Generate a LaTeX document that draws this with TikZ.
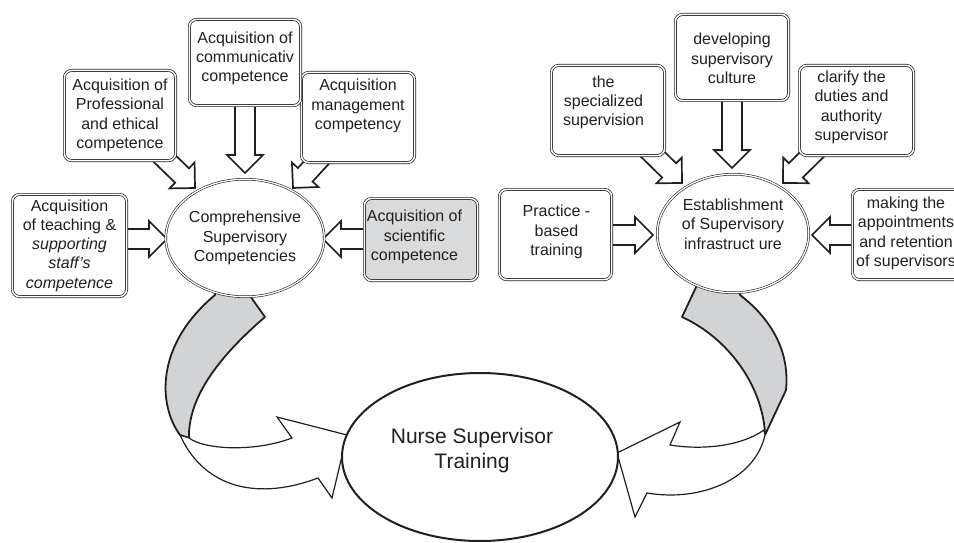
\documentclass[tikz,border=0pt]{standalone}
\usepackage{fontspec}
\setmainfont{Liberation Sans}
\usetikzlibrary{calc,shapes.geometric}
\pgfdeclarelayer{back}
\pgfsetlayers{back,main}
\definecolor{ink}{RGB}{35,31,32}
\definecolor{ribbon}{RGB}{209,211,212}
\definecolor{boxgray}{RGB}{217,218,219}
\newcommand\boxfont{\fontsize{16}{19.3}\selectfont}
\newcommand\bigfont{\fontsize{21}{25}\selectfont}
\tikzset{
  box/.style={draw=ink, double=white, double distance=1.5pt, line width=0.7pt,
    rounded corners=7pt, fill=white, inner sep=0pt},
  btxt/.style={align=center, font=\boxfont, text=ink, inner sep=0pt},
  oval/.style={ellipse, draw=ink, double=white, double distance=1.3pt, line width=0.6pt,
    fill=white, inner sep=0pt, align=center, font=\boxfont, text=ink},
  nurse/.style={ellipse, draw=ink, line width=2pt, fill=white, inner sep=0pt},
  barrow/.style={draw=ink, line width=1.7pt, fill=white, line join=miter,
    to path={let \p1=($(\tikztotarget)-(\tikztostart)$), \n1={atan2(\y1,\x1)} in
      (\tikztotarget) -- ($(\tikztotarget)+({\n1+135}:25.46pt)$)
      -- ($(\tikztotarget)+({\n1+150.95}:20.59pt)$)
      -- ($(\tikztostart)+({\n1+90}:10pt)$)
      -- ($(\tikztostart)+({\n1-90}:10pt)$)
      -- ($(\tikztotarget)+({\n1-150.95}:20.59pt)$)
      -- ($(\tikztotarget)+({\n1-135}:25.46pt)$) -- cycle}},
  rib/.style={draw=ink, line width=1.8pt, fill=ribbon, line join=round},
  ribw/.style={draw=ink, line width=1.2pt, fill=white, line join=miter},
}
\begin{document}
\begin{tikzpicture}[x=1pt,y=-1pt]
\useasboundingbox (0,0) rectangle (954,543);
\clip (0,0) rectangle (954,543);

% central ellipses
\node[oval, minimum width=148.5pt, minimum height=117.5pt] (comp) at (245,238)
  {Comprehensive\\Supervisory\\Competencies};
\node[oval, minimum width=151.5pt, minimum height=118.5pt,
  label={[btxt,yshift=9.5pt]center:Establishment\\of Supervisory\\infrastruct ure}] (est) at (733,233.5) {};
\node[nurse, minimum width=276pt, minimum height=168pt,
  label={[btxt,font=\bigfont,xshift=-8pt,yshift=6.5pt]center:Nurse Supervisor\\Training}] (nurse) at (480,457) {};

% boxes, left group
\node[box, minimum width=114.1pt, minimum height=102.1pt,
  label={[btxt]center:Acquisition\\of teaching \&\\\textit{supporting}\\\textit{staff's}\\\textit{competence}}] (teach) at (69.5,245.5) {};
\node[box, minimum width=111.1pt, minimum height=90.1pt,
  label={[btxt]center:Acquisition of\\Professional\\and ethical\\competence}] (prof) at (120,115.5) {};
\node[box, minimum width=113.1pt, minimum height=90.1pt,
  label={[btxt,yshift=11.5pt]center:Acquisition\\management\\competency}] (mgmt) at (358,117.5) {};
\node[box, minimum width=111.1pt, minimum height=86.1pt,
  label={[btxt,yshift=4pt]center:Acquisition of\\communicativ\\competence}] (comm) at (245,62.5) {};
\node[box, fill=boxgray, minimum width=113.1pt, minimum height=82.1pt,
  label={[btxt,xshift=-6.5pt,yshift=2.5pt]center:Acquisition of\\scientific\\competence}] (sci) at (421,239.5) {};

% boxes, right group
\node[box, minimum width=113.1pt, minimum height=90.1pt,
  label={[btxt,xshift=-4.5pt,yshift=8pt]center:the\\specialized\\supervision}] (spec) at (608,110.5) {};
\node[box, minimum width=113.1pt, minimum height=86.1pt,
  label={[btxt,yshift=-1pt]center:developing\\supervisory\\culture}] (dev) at (732,57.5) {};
\node[box, minimum width=114.1pt, minimum height=90.1pt,
  label={[btxt,xshift=-5pt,yshift=3pt]center:clarify the\\duties and\\authority\\supervisor}] (clar) at (856.5,110.5) {};
\node[box, minimum width=112.1pt, minimum height=90.1pt,
  label={[btxt,xshift=1pt,yshift=2.5pt]center:Practice -\\based\\training}] (prac) at (555.5,234.5) {};
\node[box, minimum width=113.1pt, minimum height=90.1pt,
  label={[btxt,xshift=-3pt,yshift=1pt]center:making the\\appointments\\and retention\\of supervisors}] (make) at (909,234.5) {};

% arrow tips
\coordinate (tTeach) at (167,239);
\coordinate (tProf) at (195,188);
\coordinate (tComm) at (245,173);
\coordinate (tMgmt) at (293,188);
\coordinate (tSci) at (323,239);
\coordinate (tSpec) at (682,183);
\coordinate (tDev) at (732,168);
\coordinate (tClar) at (783,183);
\coordinate (tPrac) at (653,235);
\coordinate (tMake) at (812,235);

\begin{pgfonlayer}{back}
% block arrows
\path[barrow] (tTeach -| teach) to (tTeach);
\path[barrow] (prof) to (tProf);
\path[barrow] (tComm |- comm) to (tComm);
\path[barrow] (mgmt) to (tMgmt);
\path[barrow] (tSci -| sci) to (tSci);
\path[barrow] (spec) to (tSpec);
\path[barrow] (tDev |- dev) to (tDev);
\path[barrow] (clar) to (tClar);
\path[barrow] (tPrac -| prac) to (tPrac);
\path[barrow] (tMake -| make) to (tMake);

% left curved arrow
\draw[rib] (213,285) -- (215,295) .. controls (155,345) and (158,405) .. (180,435)
  -- (189,438) .. controls (188,400) and (215,360) .. (265,317) -- (248,293) -- cycle;
\draw[ribw] (189,438) .. controls (205,450) and (255,452) .. (292,438) -- (277,417)
  -- (347,435) -- (332,498) -- (318,478) .. controls (260,500) and (205,490) .. (180,435) -- cycle;

% right curved arrow
\draw[rib] (698,283) -- (682,317) .. controls (728,338) and (762,385) .. (765,433)
  -- (765,435) -- (786,390) .. controls (790,350) and (770,318) .. (740,295) -- (741,288) -- cycle;
\draw[ribw] (764,430) .. controls (740,447) and (700,450) .. (670,445) -- (680,422)
  -- (617,453) -- (635,517) -- (647,493) .. controls (700,502) and (755,480) .. (765,435) -- cycle;
\end{pgfonlayer}
\end{tikzpicture}
\end{document}
